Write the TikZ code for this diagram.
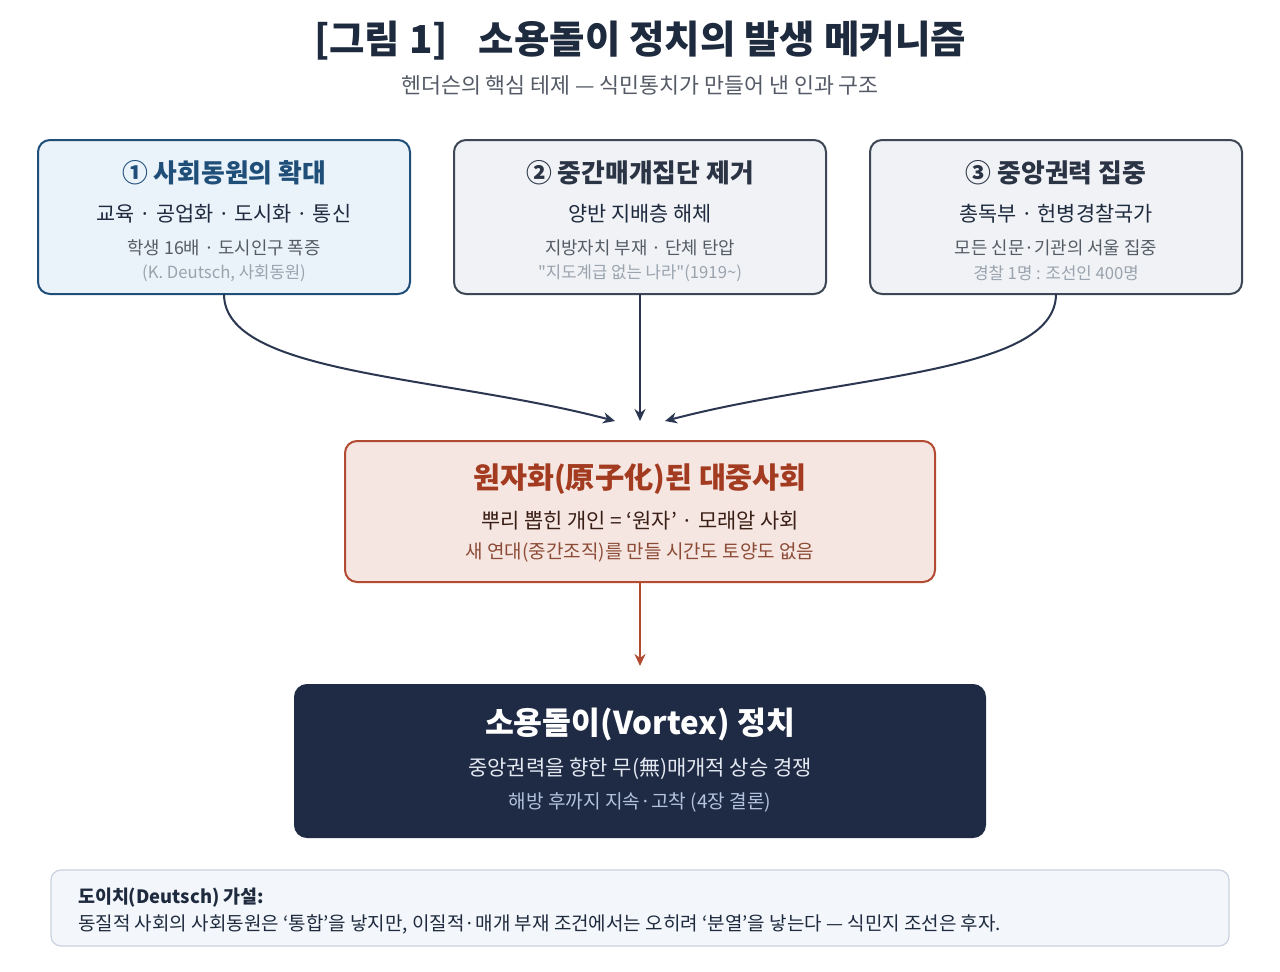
\documentclass[tikz,border=0pt]{standalone}
\usepackage{fontspec}
\setmainfont{Noto Sans CJK KR}
\newfontfamily\qfont{Noto Sans CJK KR}
\usetikzlibrary{arrows.meta}
\definecolor{ink}{HTML}{1E2A3E}
\definecolor{subgrey}{HTML}{555B66}
\definecolor{midgrey}{HTML}{555C66}
\definecolor{lightgrey}{HTML}{9AA3AE}
\definecolor{bluefill}{HTML}{EAF2FA}
\definecolor{blueline}{HTML}{1F4E79}
\definecolor{greyfill}{HTML}{F0F2F5}
\definecolor{greyline}{HTML}{3E4756}
\definecolor{greytitle}{HTML}{2B3445}
\definecolor{rustfill}{HTML}{F6E6E1}
\definecolor{rustline}{HTML}{B34A32}
\definecolor{rusttitle}{HTML}{A33B20}
\definecolor{rusttext}{HTML}{3A1F16}
\definecolor{rustsub}{HTML}{8C4B36}
\definecolor{navy}{HTML}{1F2A44}
\definecolor{navytext}{HTML}{E4E9F2}
\definecolor{navysub}{HTML}{B4C3DD}
\definecolor{notefill}{HTML}{F3F6FA}
\definecolor{noteline}{HTML}{C9D2DF}
\definecolor{arrowcol}{HTML}{2B3650}
\tikzset{
  box/.style={rounded corners=12pt, line width=2pt},
  txt/.style={inner sep=0pt, anchor=center},
  conn/.style={line width=2pt, draw=arrowcol, -{Stealth[length=12pt,width=11pt]}},
}
\begin{document}
\begin{tikzpicture}[x=1pt,y=-1pt]
\useasboundingbox (0,0) rectangle (1280,972);
\fill[white] (0,0) rectangle (1280,972);
% title
\node[txt, font=\fontsize{38.5}{42}\selectfont\bfseries, text=ink] (title) at (640,41) {[그림 1]\hspace{31pt}소용돌이 정치의 발생 메커니즘};
\node[txt, font=\fontsize{21.7}{26}\selectfont, text=subgrey] (subtitle) at (640,85) {헨더슨의 핵심 테제 — 식민통치가 만들어 낸 인과 구조};
% box 1
\draw[box, fill=bluefill, draw=blueline] (38,140) rectangle (410,294);
\node[txt, font=\fontsize{25.8}{30}\selectfont\bfseries, text=blueline] (b1t) at (224,173) {① 사회동원의 확대};
\node[txt, font=\fontsize{20.8}{25}\selectfont, text=ink] (b1a) at (224,213.5) {교육 · 공업화 · 도시화 · 통신};
\node[txt, font=\fontsize{17.8}{21}\selectfont, text=midgrey] (b1b) at (224,247.5) {학생 16배 · 도시인구 폭증};
\node[txt, font=\fontsize{16.7}{20}\selectfont, text=lightgrey] (b1c) at (224,273.5) {(K. Deutsch, 사회동원)};
\coordinate (b1) at (224,294);
% box 2
\draw[box, fill=greyfill, draw=greyline] (454,140) rectangle (826,294);
\node[txt, font=\fontsize{25.8}{30}\selectfont\bfseries, text=greytitle] (b2t) at (640,173) {② 중간매개집단 제거};
\node[txt, font=\fontsize{20.8}{25}\selectfont, text=ink] (b2a) at (640,213.5) {양반 지배층 해체};
\node[txt, font=\fontsize{17.8}{21}\selectfont, text=midgrey] (b2b) at (640,247.5) {지방자치 부재 · 단체 탄압};
\node[txt, font=\fontsize{16.7}{20}\selectfont, text=lightgrey] (b2c) at (640,273.5) {{\qfont"}지도계급 없는 나라{\qfont"}(1919\textasciitilde)};
\coordinate (b2) at (640,294);
% box 3
\draw[box, fill=greyfill, draw=greyline] (870,140) rectangle (1242,294);
\node[txt, font=\fontsize{25.8}{30}\selectfont\bfseries, text=greytitle] (b3t) at (1056,173) {③ 중앙권력 집중};
\node[txt, font=\fontsize{20.8}{25}\selectfont, text=ink] (b3a) at (1056,213.5) {총독부 · 헌병경찰국가};
\node[txt, font=\fontsize{17.8}{21}\selectfont, text=midgrey] (b3b) at (1056,247.5) {모든 신문·기관의 서울 집중};
\node[txt, font=\fontsize{16.7}{20}\selectfont, text=lightgrey] (b3c) at (1056,273.5) {경찰 1명 : 조선인 400명};
\coordinate (b3) at (1056,294);
% center box
\draw[box, fill=rustfill, draw=rustline] (345,441) rectangle (935,582);
\node[txt, font=\fontsize{29.3}{34}\selectfont\bfseries, text=rusttitle] (ct) at (640,479.5) {원자화(原子化)된 대중사회};
\node[txt, font=\fontsize{20.9}{25}\selectfont, text=rusttext] (ca) at (640,520.5) {뿌리 뽑힌 개인 = ‘원자’ · 모래알 사회};
\node[txt, font=\fontsize{19}{23}\selectfont, text=rustsub] (cb) at (640,552.5) {새 연대(중간조직)를 만들 시간도 토양도 없음};
\coordinate (ctop1) at (615,421);
\coordinate (ctop2) at (640,421);
\coordinate (ctop3) at (665,421);
\coordinate (cbot) at (640,582);
\coordinate (vtop) at (640,666);
% bottom box
\draw[box, fill=navy, draw=navy] (295,685) rectangle (985,837);
\node[txt, font=\fontsize{31.4}{36}\selectfont\bfseries, text=white] (vt) at (640,724.5) {소용돌이(Vortex) 정치};
\node[txt, font=\fontsize{21}{26}\selectfont, text=navytext] (va) at (640,768.5) {중앙권력을 향한 무(無)매개적 상승 경쟁};
\node[txt, font=\fontsize{19.1}{23}\selectfont, text=navysub] (vb) at (640,802.5) {해방 후까지 지속·고착 (4장 결론)};
% note box
\draw[rounded corners=10pt, line width=1.2pt, fill=notefill, draw=noteline] (51,870) rectangle (1229,946);
\node[inner sep=0pt, anchor=west, font=\fontsize{18.4}{22}\selectfont\bfseries, text=ink] (n1) at (78,897.5) {도이치(Deutsch) 가설:};
\node[inner sep=0pt, anchor=west, font=\fontsize{19}{23}\selectfont, text=ink] (n2) at (78,924.5) {동질적 사회의 사회동원은 ‘통합’을 낳지만, 이질적·매개 부재 조건에서는 오히려 ‘분열’을 낳는다 — 식민지 조선은 후자.};
% connectors
\draw[conn] (b1) .. controls (224,375) and (440,375) .. (ctop1);
\draw[conn] (b2) -- (ctop2);
\draw[conn] (b3) .. controls (1056,375) and (840,375) .. (ctop3);
\draw[line width=2pt, draw=rustline, -{Stealth[length=12pt,width=11pt]}] (cbot) -- (vtop);
\end{tikzpicture}
\end{document}
